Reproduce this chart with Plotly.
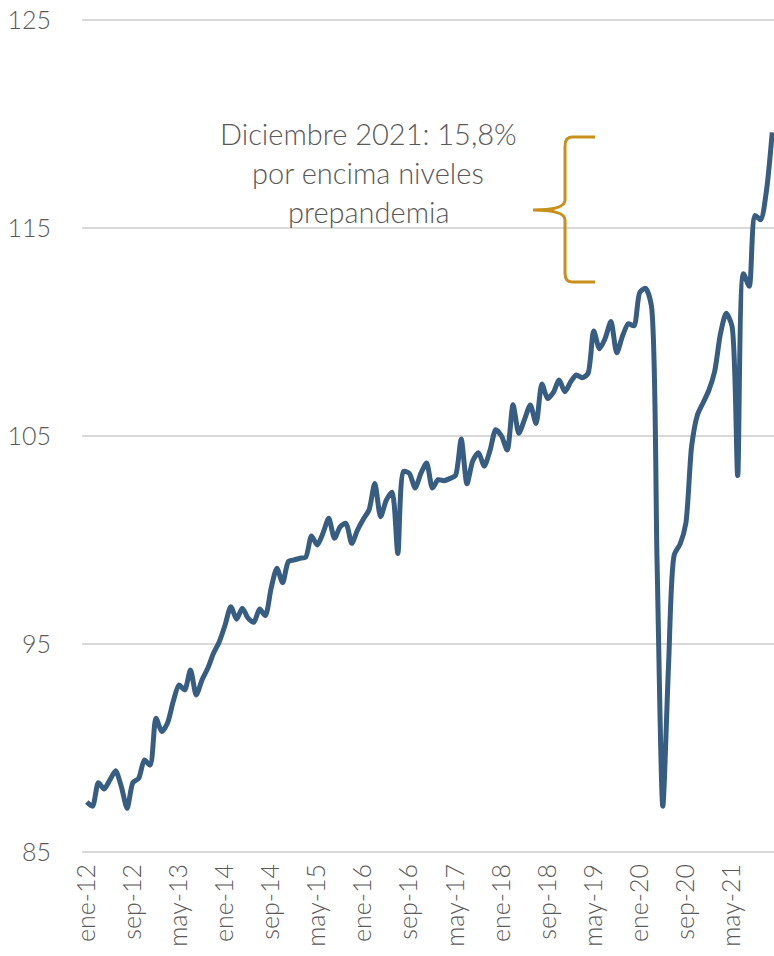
import plotly.graph_objects as go

# ---------------- data ----------------
month_abbr = ["ene", "feb", "mar", "abr", "may", "jun", "jul", "ago", "sep", "oct", "nov", "dic"]
years = [12, 13, 14, 15, 16, 17, 18, 19, 20, 21]
categories = [f"{m}-{y}" for y in years for m in month_abbr]

values = [
    87.4, 87.2, 88.33, 88.03, 88.46, 88.9, 88.14, 87.1, 88.33, 88.54,
    89.42, 89.18, 91.43, 90.79, 91.19, 92.23, 93.03, 92.79, 93.75, 92.55,
    93.27, 93.83, 94.55, 95.11, 95.9, 96.79, 96.19, 96.72, 96.24, 96.04,
    96.68, 96.36, 97.68, 98.64, 97.95, 98.96, 99.04, 99.12, 99.17, 100.19,
    99.76, 100.32, 101.04, 100.08, 100.64, 100.8, 99.84, 100.48, 101.0, 101.44,
    102.72, 101.12, 101.92, 102.3, 99.35, 103.3, 103.2, 102.5, 103.2, 103.7,
    102.5, 102.9, 102.85, 102.95, 103.1, 104.85, 102.7, 103.8, 104.2, 103.55,
    104.3, 105.3, 105.0, 104.33, 106.5, 105.13, 105.8, 106.49, 105.6, 107.5,
    106.8, 107.1, 107.69, 107.13, 107.6, 107.93, 107.8, 108.0, 110.05, 109.2,
    109.7, 110.5, 109.0, 109.8, 110.4, 110.3, 111.9, 112.1, 111.3, 99.0,
    87.2, 94.0, 99.3, 99.8, 100.8, 104.5, 106.0, 106.6, 107.2, 108.1,
    109.9, 110.9, 110.3, 103.1, 112.8, 112.2, 115.6, 115.4, 116.8, 119.6,
]

tick_labels = ["ene-12", "sep-12", "may-13", "ene-14", "sep-14", "may-15", "ene-16", "sep-16",
               "may-17", "ene-18", "sep-18", "may-19", "ene-20", "sep-20", "may-21"]
y_ticks = [85, 95, 105, 115, 125]

annotation_lines = ["Diciembre 2021: 15,8%", "por encima niveles", "prepandemia"]

# ---------------- layout constants ----------------
W, H = 774, 956
PAGE_OFF = 0                  # body margin removed via post_script
SCR_LEFT, SCR_TOP, SCR_BOTTOM = 82, 20, 852   # plot area edges as seen on screen
PX_PER_X = 5.76
X0_SCREEN = 86.8              # screen x of first category
Y_PAD = 0.05
Y_RANGE = [85 - Y_PAD, 125 + Y_PAD]
PX_PER_Y = (SCR_BOTTOM - SCR_TOP) / 40.0

ML = SCR_LEFT - PAGE_OFF
MR = 0
MT = SCR_TOP - PAGE_OFF - Y_PAD * PX_PER_Y
plot_h = (Y_RANGE[1] - Y_RANGE[0]) * PX_PER_Y
MB = H - MT - plot_h
X_RANGE = [(SCR_LEFT - X0_SCREEN) / PX_PER_X,
           (SCR_LEFT - X0_SCREEN) / PX_PER_X + (W - ML - MR) / PX_PER_X]

LINE_COLOR = "#385d82"
GRID_COLOR = "#d9d9d9"
TEXT_COLOR = "#595959"
BRACE_COLOR = "#c8901a"
FONT = "Lato"

ANN_X = 368
ANN_Y0 = 133
ANN_DY = 39


def px_to_x(px):
    return (px - X0_SCREEN) / PX_PER_X


def py_to_y(py):
    return 125 - (py - SCR_TOP) / PX_PER_Y


x_idx = list(range(len(categories)))
tick_vals = [categories.index(t) for t in tick_labels]

fig = go.Figure()
fig.add_trace(go.Scatter(
    x=x_idx, y=values, mode="lines",
    line=dict(color=LINE_COLOR, width=5, shape="spline", smoothing=0.7),
    hoverinfo="skip", showlegend=False, cliponaxis=True,
))

# curly brace "{"
pts = {
    "top_r": (595, 137), "top_c": (565, 137), "top_v": (565, 146),
    "mid_u": (565, 200), "mid_uc": (565, 210), "tip": (533, 210),
    "mid_lc": (565, 210), "mid_l": (565, 220),
    "bot_v": (565, 273), "bot_c": (565, 282), "bot_r": (595, 282),
}


def P(name):
    px, py = pts[name]
    return f"{px_to_x(px)},{py_to_y(py)}"


path = (f"M {P('top_r')} L {px_to_x(572)},{py_to_y(137)} Q {P('top_c')} {P('top_v')} "
        f"L {P('mid_u')} Q {P('mid_uc')} {P('tip')} Q {P('mid_lc')} {P('mid_l')} "
        f"L {P('bot_v')} Q {P('bot_c')} {px_to_x(572)},{py_to_y(282)} L {P('bot_r')}")
fig.add_shape(type="path", path=path, xref="x", yref="y",
              line=dict(color=BRACE_COLOR, width=3))

for k, line_text in enumerate(annotation_lines):
    fig.add_annotation(
        x=px_to_x(ANN_X), y=py_to_y(ANN_Y0 + k * ANN_DY), xref="x", yref="y",
        text=line_text, showarrow=False, align="center",
        font=dict(family=FONT, size=29, color=TEXT_COLOR, weight=300),
        xanchor="center", yanchor="middle",
    )

fig.update_layout(
    width=W, height=H,
    margin=dict(l=ML, r=MR, t=MT, b=MB, autoexpand=False),
    paper_bgcolor="white", plot_bgcolor="white",
    font=dict(family=FONT, color=TEXT_COLOR),
    xaxis=dict(
        range=X_RANGE, tickmode="array", tickvals=tick_vals, ticktext=tick_labels,
        tickangle=-90, showgrid=False, zeroline=False, showline=False,
        ticks="", tickfont=dict(family=FONT, size=25, color=TEXT_COLOR, weight=300),
        ticklabelstandoff=5, automargin=False, ticklabeloverflow="allow",
    ),
    yaxis=dict(
        range=Y_RANGE, tickmode="array", tickvals=y_ticks,
        showgrid=True, gridcolor=GRID_COLOR, gridwidth=2, zeroline=False,
        showline=False, ticks="", ticklabelstandoff=30, automargin=False,
        ticklabeloverflow="allow",
        tickfont=dict(family=FONT, size=25, color=TEXT_COLOR, weight=300),
    ),
)

fig.write_html(
    "out.html",
    config={"displayModeBar": False},
    post_script="document.body.style.margin='0px';document.body.style.overflow='hidden';",
)
